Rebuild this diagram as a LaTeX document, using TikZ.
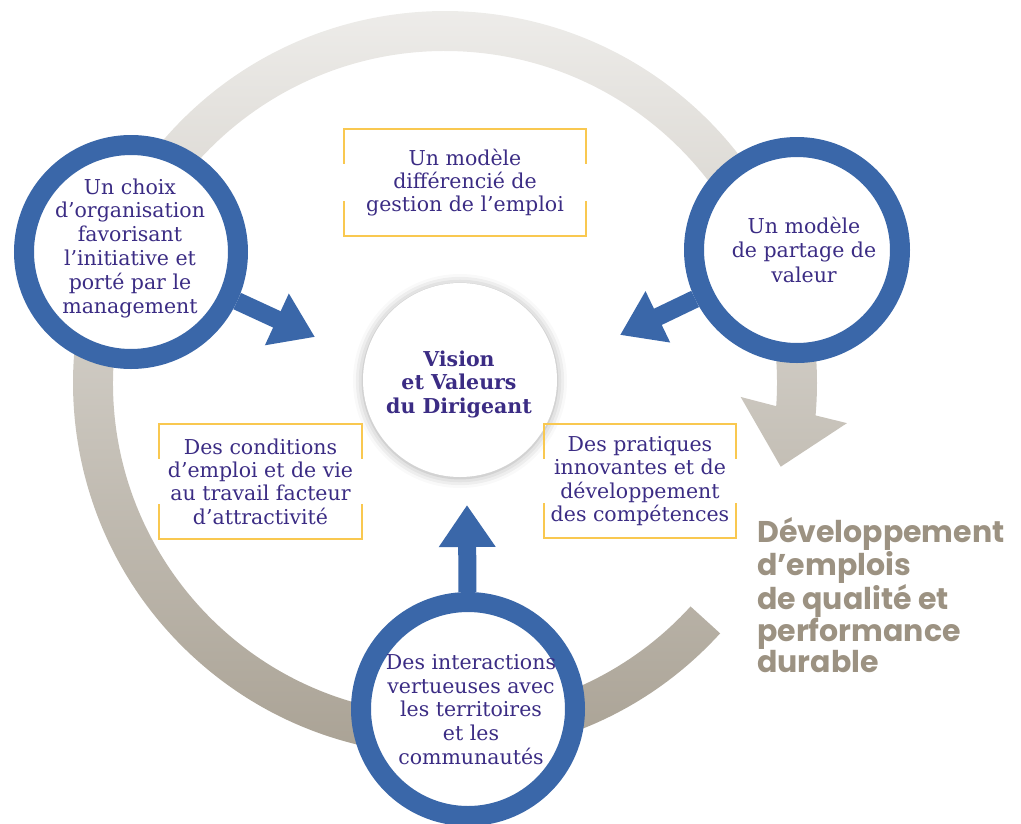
\documentclass[tikz,border=0pt]{standalone}
\usepackage{fontspec}
\setmainfont{DejaVu Serif}
\newfontfamily\outcomefont{Poppins}
\usetikzlibrary{arrows.meta,shadows.blur,calc}

\definecolor{ringblue}{HTML}{3A67A9}
\definecolor{inkpurple}{HTML}{3B2C84}
\definecolor{bracketgold}{HTML}{F9C850}
\definecolor{cycletop}{HTML}{F1F0EE}
\definecolor{cyclebottom}{HTML}{A69E90}
\definecolor{outcomegrey}{HTML}{9C9282}

\tikzset{
  pillar/.style={circle, draw=ringblue, line width=20pt, fill=white,
                 minimum size=#1, inner sep=0pt},
  pillartext/.style={text=inkpurple, align=center, inner sep=0pt,
                     font=\fontsize{20.5}{#1}\selectfont},
  hub/.style={circle, fill=white, minimum size=194pt, inner sep=0pt,
              blur shadow={shadow xshift=0pt, shadow yshift=-1pt,
                           shadow blur radius=10pt, shadow opacity=35}},
  hubtext/.style={text=inkpurple, align=center, inner sep=0pt,
                  font=\bfseries\fontsize{20.5}{23.5}\selectfont},
  practice/.style={rectangle, inner sep=0pt, text=inkpurple, align=center,
                   font=\fontsize{20.5}{23.3}\selectfont},
  bracket/.style={draw=bracketgold, line width=1.8pt},
  feed/.style={draw=ringblue, line width=18pt,
               -{Triangle[length=42pt,width=54pt]}},
  outcome/.style={text=outcomegrey, align=left, inner sep=0pt,
                  font=\outcomefont\bfseries\fontsize{30}{27.4}\selectfont},
}

% open frame: full top and bottom edges, short vertical stubs at the corners
\newcommand\drawbrackets[2]{%
  \draw[bracket] ([yshift=-#2]#1.north west) -- (#1.north west)
                 -- (#1.north east) -- ([yshift=-#2]#1.north east);
  \draw[bracket] ([yshift=#2]#1.south west) -- (#1.south west)
                 -- (#1.south east) -- ([yshift=#2]#1.south east);
}

\begin{document}
\begin{tikzpicture}[x=1pt,y=1pt]
\useasboundingbox (0,0) rectangle (1021,-823);

% grey cycle band ending in a wide arrow head
\coordinate (cycleC) at (445,-383);
\shade[top color=cycletop, bottom color=cyclebottom]
  ($(cycleC)+(-42.3:372)$) arc[start angle=-42.3, end angle=-365, radius=372]
  -- ($(cycleC)+(-365.7:404)$) -- ($(cycleC)+(-374:346)$)
  -- ($(cycleC)+(-362.7:296)$) -- ($(cycleC)+(-364:332)$)
  arc[start angle=-364, end angle=-42.3, radius=332] -- cycle;

% the three pillars
\node[pillar=214pt] (pillarL) at (131,-252) {};
\node[pillar=206pt] (pillarR) at (797,-250) {};
\node[pillar=214pt] (pillarB) at (468,-709) {};

% arrows feeding the centre
\coordinate (tipL) at (315,-337);
\coordinate (tipR) at (620,-335);
\coordinate (tipB) at (467,-505);
\draw[feed] (pillarL) -- (tipL);
\draw[feed] (pillarR) -- (tipR);
\draw[feed] (pillarB) -- (tipB);

% centre
\node[hub] (hub) at (460,-380) {};
\node[hubtext] (hubtext) at (459,-384) {Vision\\et Valeurs\\du Dirigeant};

% practice frames
\node[practice, minimum width=242pt, minimum height=107pt] (boxTop) at (465,-182.5)
  {Un modèle\\différencié de\\gestion de l’emploi};
\node[practice, minimum width=203pt, minimum height=115pt] (boxLeft) at (260.5,-481.5)
  {Des conditions\\d’emploi et de vie\\au travail facteur\\d’attractivité};
\node[practice, minimum width=192pt, minimum height=114pt] (boxRight) at (640,-481)
  {Des pratiques\\innovantes et de\\développement\\des compétences};
\drawbrackets{boxTop}{35pt}
\drawbrackets{boxLeft}{35pt}
\drawbrackets{boxRight}{35pt}

% pillar captions
\node[pillartext=23.8] (txtL) at (130,-248)
  {Un choix\\d’organisation\\favorisant\\l’initiative et\\porté par le\\management};
\node[pillartext=24.5] (txtR) at (804,-249.5)
  {Un modèle\\de partage de\\valeur};
\node[pillartext=23.75] (txtB) at (471,-709.5)
  {Des interactions\\vertueuses avec\\les territoires\\et les\\communautés};

% outcome
\node[outcome, anchor=north west] (outcome) at (757,-517)
  {Développement\\d’emplois\\de qualité et\\performance\\durable};
\end{tikzpicture}
\end{document}
